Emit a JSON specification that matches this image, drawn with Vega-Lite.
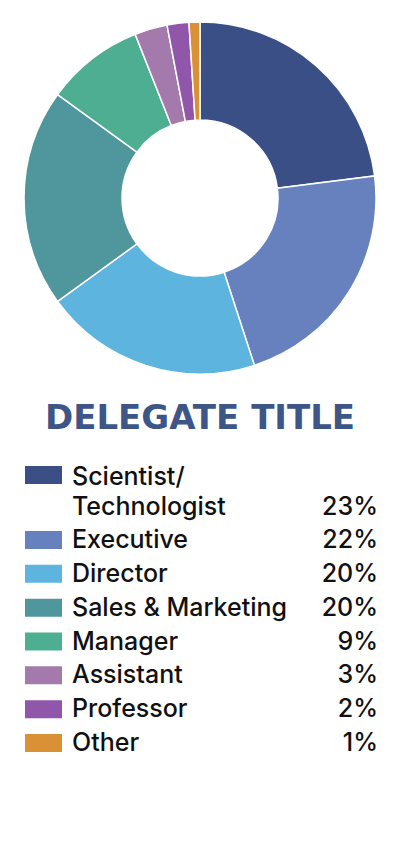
{
  "$schema": "https://vega.github.io/schema/vega-lite/v6.json",
  "padding": 0,
  "spacing": 6,
  "background": "white",
  "config": {"view": {"stroke": null}},
  "datasets": {
    "titles": [
      {"title": "Scientist/\nTechnologist", "share": 0.23, "rank": 0},
      {"title": "Executive", "share": 0.22, "rank": 1},
      {"title": "Director", "share": 0.20, "rank": 2},
      {"title": "Sales & Marketing", "share": 0.20, "rank": 3},
      {"title": "Manager", "share": 0.09, "rank": 4},
      {"title": "Assistant", "share": 0.03, "rank": 5},
      {"title": "Professor", "share": 0.02, "rank": 6},
      {"title": "Other", "share": 0.01, "rank": 7}
    ]
  },
  "vconcat": [
    {
      "width": 400,
      "height": 396,
      "data": {"name": "titles"},
      "mark": {"type": "arc", "radius": 176, "innerRadius": 78, "stroke": "white", "strokeWidth": 1.5},
      "encoding": {
        "theta": {"field": "share", "type": "quantitative", "stack": true},
        "order": {"field": "rank", "type": "quantitative"},
        "color": {
          "field": "title",
          "type": "nominal",
          "legend": null,
          "scale": {
            "domain": ["Scientist/\nTechnologist", "Executive", "Director", "Sales & Marketing", "Manager", "Assistant", "Professor", "Other"],
            "range": ["#3A4F86", "#6781BF", "#5DB4DE", "#4F979D", "#4DAE91", "#A37AAB", "#9056A9", "#DA9136"]
          }
        }
      }
    },
    {
      "width": 400,
      "height": 400,
      "data": {"name": "titles"},
      "title": {
        "text": "DELEGATE TITLE",
        "font": "DejaVu Sans",
        "fontSize": 34,
        "fontWeight": "bold",
        "color": "#3D5587",
        "anchor": "middle",
        "offset": 4
      },
      "resolve": {"scale": {"y": "independent"}},
      "layer": [
        {
          "mark": {"type": "point", "filled": true, "opacity": 1, "shape": "M-1,-0.486H1V0.486H-1Z", "size": 1369, "strokeWidth": 0},
          "encoding": {
            "x": {"value": 43.5},
            "y": {"field": "rank", "type": "quantitative", "axis": null, "scale": {"domain": [0, 1, 7], "range": [35, 100, 303]}},
            "color": {"field": "title", "type": "nominal", "legend": null}
          }
        },
        {
          "mark": {"type": "text", "align": "left", "baseline": "middle", "font": "Inter", "fontSize": 25, "fontWeight": 500, "color": "#111111", "lineBreak": "\n", "lineHeight": 30.5},
          "encoding": {
            "x": {"value": 72},
            "y": {"field": "rank", "type": "quantitative", "axis": null, "scale": {"domain": [0, 1, 7], "range": [36.5, 100, 303]}},
            "text": {"field": "title", "type": "nominal"}
          }
        },
        {
          "mark": {"type": "text", "align": "right", "baseline": "middle", "font": "Inter", "fontSize": 25, "fontWeight": 500, "color": "#111111"},
          "encoding": {
            "x": {"value": 378},
            "y": {"field": "rank", "type": "quantitative", "axis": null, "scale": {"domain": [0, 1, 7], "range": [67, 100, 303]}},
            "text": {"field": "share", "type": "quantitative", "format": ".0%"},
            "detail": {"field": "title"}
          }
        }
      ]
    }
  ]
}
